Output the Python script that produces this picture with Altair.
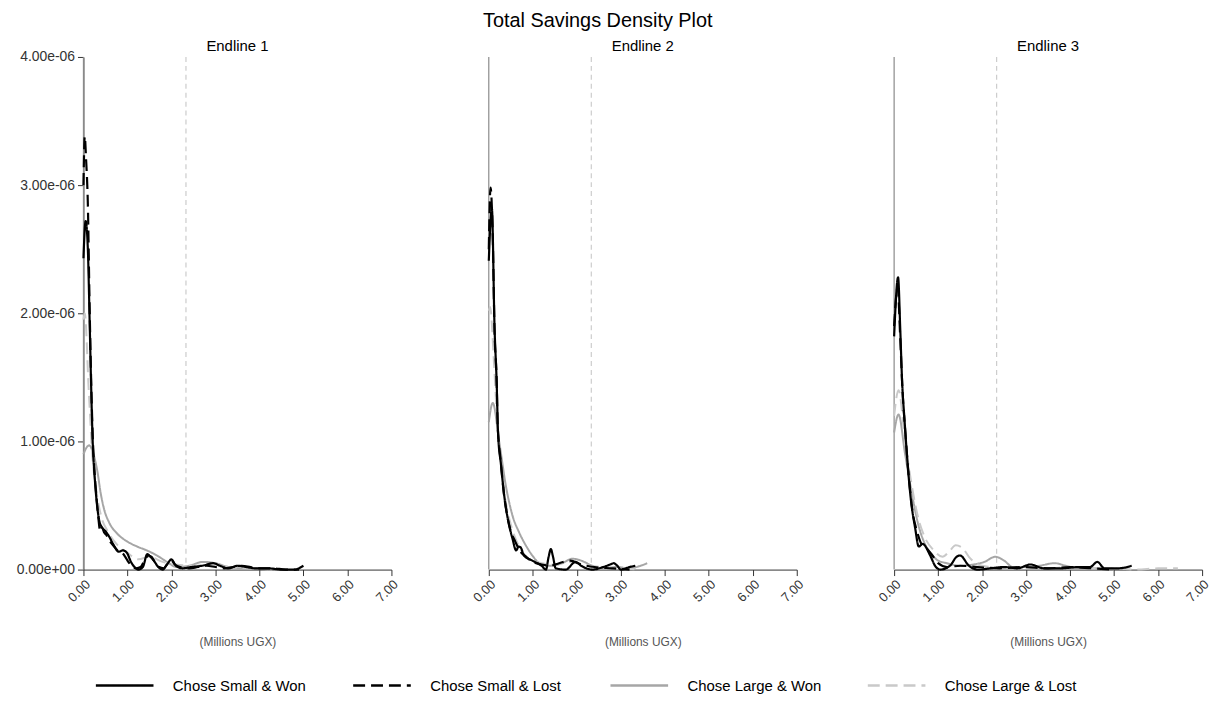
import altair as alt
import pandas as pd

PANELS = ["Endline 1", "Endline 2", "Endline 3"]
SERIES = ["Chose Small & Won", "Chose Small & Lost", "Chose Large & Won", "Chose Large & Lost"]
COLORS = ["#000000", "#000000", "#a6a6a6", "#c9c9c9"]
DASHES = [[1, 0], [12, 6], [1, 0], [12, 6]]
X_TICKS = [0, 1, 2, 3, 4, 5, 6, 7]
Y_TICKS = [0, 1, 2, 3, 4]          # density, in units of 1e-6
THRESHOLD = 2.33                   # millions UGX

# ---- Endline 1 (x: millions UGX, y: density x 1e-6) ----
E1_SW_X = [0, 0.05, 0.1, 0.14, 0.17, 0.21, 0.26, 0.31, 0.36, 0.42, 0.5, 0.58, 0.69, 0.8, 0.9, 0.99, 1.08, 1.16,
           1.25, 1.35, 1.45, 1.52, 1.6, 1.7, 1.8, 1.9, 2.0, 2.1, 2.25, 2.45, 2.7, 2.95, 3.1, 3.3, 3.5, 3.7, 3.9,
           4.2, 4.5, 4.8, 4.95, 5.0]
E1_SW_Y = [2.43, 2.72, 2.5, 1.95, 1.5, 1.0, 0.7, 0.5, 0.38, 0.33, 0.3, 0.26, 0.19, 0.14, 0.15, 0.13, 0.06, 0.02,
           0.0, 0.02, 0.12, 0.1, 0.07, 0.02, 0.0, 0.04, 0.08, 0.03, 0.01, 0.02, 0.03, 0.05, 0.03, 0.01, 0.03, 0.02,
           0.01, 0.01, 0.0, 0.0, 0.02, 0.03]
E1_SL_X = [0, 0.03, 0.06, 0.1, 0.14, 0.17, 0.21, 0.26, 0.3, 0.34, 0.38, 0.42, 0.47, 0.52, 0.58, 0.65, 0.72, 0.8,
           0.88, 0.95, 1.02, 1.1, 1.2, 1.3, 1.4, 1.48, 1.55, 1.62, 1.72, 1.82, 1.92, 2.0, 2.08, 2.2, 2.4, 2.6, 2.8,
           3.0, 3.2, 3.4, 3.6, 3.8, 4.0, 4.3, 4.6, 4.9]
E1_SL_Y = [3.0, 3.38, 3.2, 2.85, 2.05, 1.55, 1.05, 0.72, 0.55, 0.4, 0.3, 0.33, 0.29, 0.27, 0.23, 0.2, 0.17, 0.14,
           0.13, 0.1, 0.06, 0.03, 0.01, 0.02, 0.08, 0.11, 0.1, 0.06, 0.02, 0.01, 0.05, 0.07, 0.04, 0.02, 0.01, 0.02,
           0.03, 0.02, 0.01, 0.02, 0.03, 0.02, 0.01, 0.01, 0.0, 0.0]
E1_LW_X = [0, 0.05, 0.13, 0.2, 0.26, 0.32, 0.39, 0.47, 0.58, 0.77, 0.99, 1.22, 1.44, 1.67, 1.9, 2.12, 2.4, 2.72,
           3.0, 3.3, 3.6, 3.9, 4.2]
E1_LW_Y = [0.9, 0.94, 0.97, 0.93, 0.86, 0.76, 0.6, 0.47, 0.37, 0.28, 0.22, 0.18, 0.15, 0.11, 0.06, 0.02, 0.03,
           0.06, 0.05, 0.02, 0.01, 0.01, 0.0]
E1_LL_X = [0, 0.03, 0.12, 0.2, 0.3, 0.4, 0.55, 0.75, 1.0, 1.25, 1.5, 1.8, 2.1, 2.5, 2.9, 3.3, 3.8, 4.3]
E1_LL_Y = [1.95, 2.0, 1.4, 0.9, 0.6, 0.42, 0.3, 0.2, 0.13, 0.08, 0.1, 0.06, 0.04, 0.03, 0.04, 0.02, 0.01, 0.0]

# ---- Endline 2 ----
E2_SW_X = [0, 0.07, 0.13, 0.18, 0.21, 0.28, 0.35, 0.43, 0.54, 0.62, 0.68, 0.73, 0.8, 0.99, 1.2, 1.3, 1.36, 1.41,
           1.46, 1.52, 1.75, 1.97, 2.1, 2.35, 2.6, 2.76, 2.84, 2.92, 3.0, 3.2, 3.33]
E2_SW_Y = [2.41, 2.82, 1.9, 1.45, 1.07, 0.81, 0.58, 0.4, 0.24, 0.15, 0.18, 0.17, 0.11, 0.07, 0.03, 0.0, 0.1, 0.16,
           0.1, 0.01, 0.0, 0.06, 0.03, 0.0, 0.02, 0.04, 0.05, 0.03, 0.0, 0.02, 0.03]
E2_SL_X = [0, 0.04, 0.09, 0.13, 0.18, 0.2, 0.27, 0.34, 0.42, 0.5, 0.6, 0.7, 0.85, 1.0, 1.2, 1.4, 1.6, 1.85, 2.1,
           2.4, 2.8, 3.2]
E2_SL_Y = [2.5, 2.98, 2.6, 1.87, 1.46, 1.15, 0.85, 0.6, 0.42, 0.3, 0.22, 0.15, 0.1, 0.06, 0.04, 0.03, 0.05, 0.07,
           0.04, 0.02, 0.01, 0.0]
E2_LW_X = [0, 0.09, 0.24, 0.39, 0.54, 0.69, 0.84, 0.99, 1.15, 1.37, 1.67, 1.9, 2.1, 2.35, 2.6, 2.9, 3.2, 3.45, 3.6]
E2_LW_Y = [1.15, 1.3, 0.99, 0.65, 0.42, 0.29, 0.19, 0.11, 0.05, 0.03, 0.05, 0.085, 0.07, 0.03, 0.01, 0.02, 0.01,
           0.03, 0.05]
E2_LL_X = [0, 0.03, 0.12, 0.2, 0.3, 0.4, 0.52, 0.66, 0.8, 1.0, 1.2, 1.5, 1.8, 2.0, 2.3, 2.6, 3.0, 3.4]
E2_LL_Y = [2.02, 2.05, 1.6, 1.1, 0.75, 0.5, 0.33, 0.2, 0.12, 0.07, 0.05, 0.04, 0.06, 0.05, 0.03, 0.02, 0.01, 0.0]

# ---- Endline 3 ----
E3_SW_X = [0, 0.09, 0.14, 0.18, 0.24, 0.29, 0.37, 0.48, 0.56, 0.65, 0.82, 0.93, 1.05, 1.27, 1.42, 1.5, 1.7, 1.9,
           2.2, 2.5, 2.8, 3.1, 3.4, 3.8, 4.2, 4.45, 4.62, 4.78, 5.1, 5.4]
E3_SW_Y = [1.82, 2.28, 1.87, 1.48, 1.15, 0.9, 0.58, 0.32, 0.18, 0.2, 0.11, 0.03, 0.0, 0.03, 0.1, 0.11, 0.03, 0.0,
           0.01, 0.02, 0.01, 0.04, 0.01, 0.01, 0.02, 0.02, 0.06, 0.01, 0.01, 0.03]
E3_SL_X = [0, 0.08, 0.14, 0.19, 0.26, 0.34, 0.42, 0.52, 0.62, 0.75, 0.85, 1.0, 1.2, 1.5, 1.9, 2.4, 2.9, 3.5, 4.0,
           4.5, 5.0]
E3_SL_Y = [1.9, 2.2, 1.8, 1.4, 1.05, 0.7, 0.45, 0.3, 0.2, 0.16, 0.12, 0.05, 0.02, 0.03, 0.02, 0.01, 0.02, 0.01,
           0.02, 0.01, 0.0]
E3_LW_X = [0, 0.1, 0.25, 0.4, 0.55, 0.7, 0.85, 1.0, 1.2, 1.5, 1.8, 2.05, 2.3, 2.5, 2.7, 3.0, 3.3, 3.65, 3.9, 4.2,
           4.6, 5.0]
E3_LW_Y = [1.07, 1.21, 0.9, 0.6, 0.35, 0.2, 0.12, 0.07, 0.05, 0.03, 0.04, 0.06, 0.1, 0.07, 0.02, 0.02, 0.03, 0.05,
           0.03, 0.01, 0.01, 0.0]
E3_LL_X = [0, 0.1, 0.25, 0.38, 0.55, 0.7, 0.9, 1.1, 1.25, 1.4, 1.55, 1.7, 1.9, 2.2, 2.6, 3.0, 3.5, 4.0, 4.5, 5.0,
           5.5, 6.0, 6.45]
E3_LL_Y = [1.2, 1.4, 1.0, 0.7, 0.4, 0.25, 0.15, 0.1, 0.14, 0.19, 0.17, 0.1, 0.04, 0.02, 0.01, 0.02, 0.01, 0.02,
           0.01, 0.01, 0.0, 0.01, 0.01]

CURVES = {
    ("Endline 1", "Chose Small & Won"): (E1_SW_X, E1_SW_Y),
    ("Endline 1", "Chose Small & Lost"): (E1_SL_X, E1_SL_Y),
    ("Endline 1", "Chose Large & Won"): (E1_LW_X, E1_LW_Y),
    ("Endline 1", "Chose Large & Lost"): (E1_LL_X, E1_LL_Y),
    ("Endline 2", "Chose Small & Won"): (E2_SW_X, E2_SW_Y),
    ("Endline 2", "Chose Small & Lost"): (E2_SL_X, E2_SL_Y),
    ("Endline 2", "Chose Large & Won"): (E2_LW_X, E2_LW_Y),
    ("Endline 2", "Chose Large & Lost"): (E2_LL_X, E2_LL_Y),
    ("Endline 3", "Chose Small & Won"): (E3_SW_X, E3_SW_Y),
    ("Endline 3", "Chose Small & Lost"): (E3_SL_X, E3_SL_Y),
    ("Endline 3", "Chose Large & Won"): (E3_LW_X, E3_LW_Y),
    ("Endline 3", "Chose Large & Lost"): (E3_LL_X, E3_LL_Y),
}

rows = []
for (panel, series), (xs, ys) in CURVES.items():
    for xv, yv in zip(xs, ys):
        rows.append({"panel": panel, "series": series, "x": xv, "y": yv,
                     "group": "black" if "Small" in series else "gray"})
df = pd.DataFrame(rows)

FONT = "Liberation Sans"

x_enc = alt.X("x:Q", scale=alt.Scale(domain=[0, 7], nice=False),
              axis=alt.Axis(values=X_TICKS, format=".2f", labelAngle=-45, labelFontSize=13,
                            labelColor="#333", tickSize=6, tickColor="#333", domainColor="#333",
                            grid=False, title="(Millions UGX)", titleFontSize=12,
                            titleFontWeight="normal", titleColor="#555", titlePadding=32))
y_enc = alt.Y("y:Q", scale=alt.Scale(domain=[0, 4], nice=False),
              axis=alt.Axis(values=Y_TICKS, labelExpr="format(datum.value, '.2f') + (datum.value == 0 ? 'e+00' : 'e-06')",
                            labelFontSize=14, labelColor="#333", tickSize=6, tickColor="#333",
                            labelPadding=3, domainColor="#333", grid=False, title=None))
color_enc = alt.Color("series:N", scale=alt.Scale(domain=SERIES, range=COLORS),
                      legend=alt.Legend(title=None))
dash_enc = alt.StrokeDash("series:N", scale=alt.Scale(domain=SERIES, range=DASHES),
                          legend=alt.Legend(title=None))

gray_lines = alt.Chart().mark_line(interpolate="monotone", strokeWidth=2).encode(
    x=x_enc, y=y_enc, color=color_enc, strokeDash=dash_enc, detail="series:N"
).transform_filter(alt.datum.group == "gray")

black_lines = alt.Chart().mark_line(interpolate="monotone", strokeWidth=2.2).encode(
    x=x_enc, y=y_enc, color=color_enc, strokeDash=dash_enc, detail="series:N"
).transform_filter(alt.datum.group == "black")

thresh = alt.Chart().transform_aggregate(n="count()", groupby=["panel"]).mark_rule(
    color="#cccccc", strokeDash=[5, 4], strokeWidth=1.2
).encode(x=alt.datum(THRESHOLD))

zero_line = alt.Chart().transform_aggregate(n="count()", groupby=["panel"]).mark_rule(
    color="#8a8a8a", strokeWidth=1.2
).encode(x=alt.datum(0))

chart = alt.layer(thresh, zero_line, gray_lines, black_lines, data=df).properties(
    width=310, height=516
).facet(
    column=alt.Column("panel:N", sort=PANELS,
                      header=alt.Header(title=None, labelFontSize=15, labelColor="#000",
                                        labelPadding=3, labelFont=FONT)),
    spacing=98,
    bounds="flush",
).properties(
    title=alt.Title("Total Savings Density Plot", fontSize=20, fontWeight="normal",
                    color="#000", anchor="middle", offset=8, dx=-16, font=FONT),
    padding={"left": 16, "right": 5, "top": 9, "bottom": 5},
).configure(font=FONT).configure_view(stroke=None).configure_legend(
    orient="bottom", direction="horizontal", columns=4, symbolType="stroke",
    symbolSize=3364, symbolStrokeWidth=2.5, labelFontSize=15, labelColor="#000",
    labelOffset=18, columnPadding=41, gridAlign="all", labelLimit=300,
    padding=11, offset=-4
)

chart.save("out.html", embed_options={"renderer": "svg", "actions": False})
